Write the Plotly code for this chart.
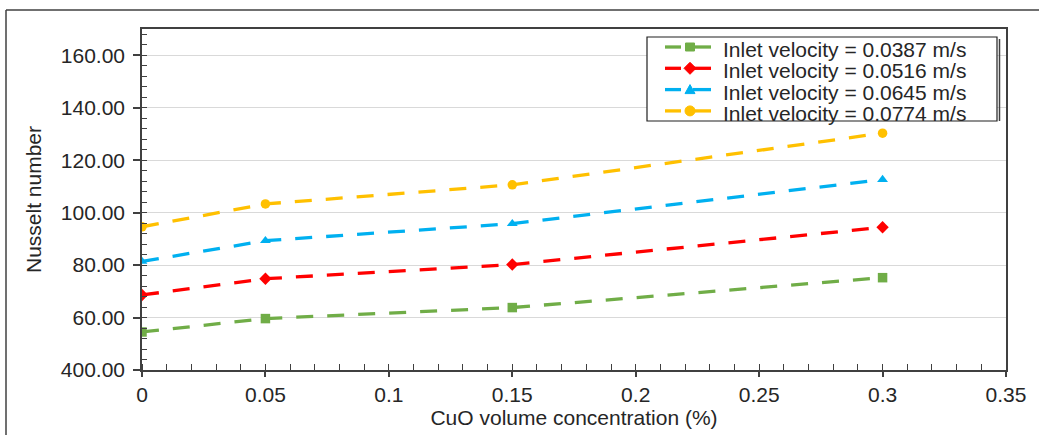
import plotly.graph_objects as go

# ---- data ----
concentration = [0, 0.05, 0.15, 0.3]
nu_0387 = [54.5, 59.6, 63.8, 75.2]
nu_0516 = [68.6, 74.8, 80.2, 94.4]
nu_0645 = [81.4, 89.3, 95.8, 112.6]
nu_0774 = [94.6, 103.3, 110.6, 130.3]

series_names = [
    "Inlet velocity = 0.0387 m/s",
    "Inlet velocity = 0.0516 m/s",
    "Inlet velocity = 0.0645 m/s",
    "Inlet velocity = 0.0774 m/s",
]
series_values = [nu_0387, nu_0516, nu_0645, nu_0774]
colors = ["#70AD47", "#FF0000", "#00B0F0", "#FFC000"]
symbols = ["square", "diamond", "triangle-up", "circle"]

y_tickvals = [40, 60, 80, 100, 120, 140, 160]
y_ticktext = ["400.00", "60.00", "80.00", "100.00", "120.00", "140.00", "160.00"]
x_tickvals = [0, 0.05, 0.1, 0.15, 0.2, 0.25, 0.3, 0.35]
x_ticktext = ["0", "0.05", "0.1", "0.15", "0.2", "0.25", "0.3", "0.35"]

FONT = "Liberation Sans, Arial, sans-serif"
TXT = "#262626"
AX = "#404040"
FS = 21

W, H = 1039, 435
ML, MR, MT, MB = 142, 33, 29, 65
PW, PH = W - ML - MR, H - MT - MB


def px(xp):
    return (xp - ML) / PW


def py(yp):
    return (H - MB - yp) / PH


fig = go.Figure()
for name, vals, c, s in zip(series_names, series_values, colors, symbols):
    fig.add_trace(go.Scatter(
        x=concentration, y=vals, name=name, mode="lines+markers",
        line=dict(color=c, width=3.3, dash="17px,14px"),
        marker=dict(symbol=s, size=9.5, color=c),
        showlegend=False,
    ))

shapes = []
annotations = []

# outer frame (left and top edges visible in the reference)
shapes.append(dict(type="line", xref="paper", yref="paper", layer="above",
                   x0=px(6), x1=px(6), y0=py(10), y1=py(440), line=dict(color=AX, width=1.5)))
shapes.append(dict(type="line", xref="paper", yref="paper", layer="above",
                   x0=px(6), x1=px(1045), y0=py(10), y1=py(10), line=dict(color=AX, width=1.5)))

# custom compact legend box
LX0, LX1, LY0, LY1 = 647, 997, 37, 121
shapes.append(dict(type="rect", xref="paper", yref="paper", layer="above",
                   x0=px(LX0), x1=px(LX1), y0=py(LY0), y1=py(LY1),
                   fillcolor="white", line=dict(color="#202020", width=1.2)))
shapes.append(dict(type="line", xref="paper", yref="paper", layer="above",
                   x0=px(LX1 + 2.5), x1=px(LX1 + 2.5), y0=py(LY0 + 2), y1=py(LY1),
                   line=dict(color="#404040", width=1.5)))

row_y = [47, 68.3, 89.6, 110.9]
sym_paths = {
    "square": "M -4.5 -4 L 4.5 -4 L 4.5 4 L -4.5 4 Z",
    "diamond": "M 0 -6 L 6 0 L 0 6 L -6 0 Z",
    "triangle-up": "M -5 -4 L 5 -4 L 0 5 Z",
}
for name, c, s, ry in zip(series_names, colors, symbols, row_y):
    shapes.append(dict(type="line", xref="paper", yref="paper", layer="above",
                       x0=px(665), x1=px(681), y0=py(ry), y1=py(ry),
                       line=dict(color=c, width=3.3)))
    shapes.append(dict(type="line", xref="paper", yref="paper", layer="above",
                       x0=px(693), x1=px(711), y0=py(ry), y1=py(ry),
                       line=dict(color=c, width=3.3)))
    if s == "circle":
        shapes.append(dict(type="circle", xref="paper", yref="paper", layer="above",
                           xsizemode="pixel", ysizemode="pixel",
                           xanchor=px(690), yanchor=py(ry),
                           x0=-5, x1=5, y0=-5, y1=5,
                           fillcolor=c, line=dict(color=c, width=1)))
    else:
        shapes.append(dict(type="path", xref="paper", yref="paper", layer="above",
                           xsizemode="pixel", ysizemode="pixel",
                           xanchor=px(690), yanchor=py(ry),
                           path=sym_paths[s], fillcolor=c, line=dict(color=c, width=1)))
    annotations.append(dict(xref="paper", yref="paper", x=px(721), y=py(ry + 2.5),
                            xanchor="left", yanchor="middle", showarrow=False,
                            text=name, font=dict(family=FONT, size=FS, color=TXT)))

fig.update_layout(
    width=W, height=H,
    margin=dict(l=ML, r=MR, t=MT, b=MB, autoexpand=False),
    paper_bgcolor="white", plot_bgcolor="white",
    font=dict(family=FONT, size=FS, color=TXT),
    showlegend=False,
    shapes=shapes,
    annotations=annotations,
)

fig.update_xaxes(
    range=[0, 0.35], tickvals=x_tickvals, ticktext=x_ticktext,
    showline=True, linecolor=AX, linewidth=1.5, mirror=True,
    ticks="outside", ticklen=5, tickcolor=AX, tickwidth=1.5,
    minor=dict(ticks="inside", dtick=0.01, ticklen=6, tickcolor=AX, tickwidth=1.2, showgrid=False),
    showgrid=False, zeroline=False, automargin=False,
    tickfont=dict(size=FS, color=TXT),
    title=dict(text="CuO volume concentration (%)", font=dict(size=FS, color=TXT), standoff=2),
)
fig.update_yaxes(
    range=[40, 170], tickvals=y_tickvals, ticktext=y_ticktext,
    showline=True, linecolor=AX, linewidth=1.5, mirror=True,
    ticks="outside", ticklen=7, tickcolor=AX, tickwidth=1.5, ticklabelstandoff=4,
    minor=dict(ticks="inside", dtick=4, ticklen=5, tickcolor=AX, tickwidth=1.2, showgrid=False),
    showgrid=True, gridcolor="#d9d9d9", gridwidth=1, zeroline=False, automargin=False,
    tickfont=dict(size=FS, color=TXT),
    title=dict(text="Nusselt number", font=dict(size=FS, color=TXT), standoff=13),
)

fig.write_html("out.html")
